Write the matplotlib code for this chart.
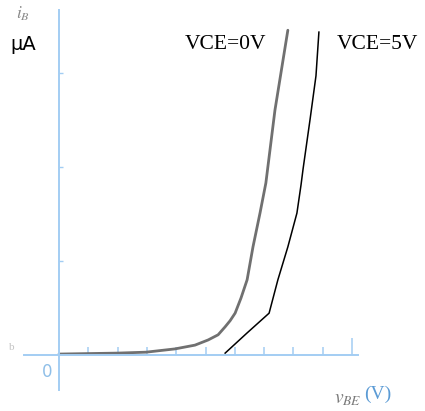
import matplotlib
matplotlib.use("Agg")
import matplotlib.pyplot as plt

# input characteristic of a BJT
# vBE in volts, iB in uA
vbe_0v = [0.000, 0.099, 0.198, 0.297, 0.396, 0.464, 0.509, 0.543, 0.567,
          0.584, 0.601, 0.621, 0.642, 0.662, 0.686, 0.706, 0.737, 0.781]
ib_0v = [0.2, 0.3, 0.4, 0.6, 1.3, 2.1, 3.2, 4.3, 6.0,
         7.3, 8.9, 12.1, 16.0, 23.0, 30.2, 36.6, 52.1, 69.1]

vbe_5v = [0.567, 0.642, 0.717, 0.747, 0.781, 0.812, 0.826, 0.833,
          0.857, 0.877, 0.887]
ib_5v = [0.4, 4.7, 8.9, 16.0, 23.0, 30.2, 36.2, 39.6,
         50.2, 59.4, 68.7]

x_ticks = [0.1, 0.2, 0.3, 0.4, 0.5, 0.6, 0.7, 0.8, 0.9]
x_end_tick = [1.0]
y_ticks = [20, 40, 60]

AXIS_BLUE = "#a3cdf3"

fig = plt.figure(figsize=(4.25, 4.11), dpi=100)
ax = fig.add_axes([0, 0, 1, 1])
ax.set_xlim(-0.2014, 1.2491)
ax.set_ylim(-11.915, 75.532)

ax.plot(vbe_0v, ib_0v, color="#707070", lw=2.0, solid_capstyle="round",
        solid_joinstyle="round")
ax.plot(vbe_5v, ib_5v, color="black", lw=1.1)

# axes drawn as spines through the origin
for side in ("top", "right"):
    ax.spines[side].set_visible(False)
ax.spines["left"].set_position(("data", 0))
ax.spines["bottom"].set_position(("data", 0))
ax.spines["left"].set_bounds(-7.4, 73.4)
ax.spines["bottom"].set_bounds(-0.12, 1.02)
for side in ("left", "bottom"):
    ax.spines[side].set_color(AXIS_BLUE)
    ax.spines[side].set_linewidth(1.4)

ax.set_xticks(x_ticks)
ax.set_xticks(x_end_tick, minor=True)
ax.set_yticks(y_ticks)
ax.tick_params(axis="x", which="major", direction="in", length=6,
               width=1.1, color=AXIS_BLUE, labelbottom=False)
ax.tick_params(axis="x", which="minor", direction="in", length=12,
               width=1.1, color=AXIS_BLUE, labelbottom=False)
ax.tick_params(axis="y", direction="in", length=3, width=1.0,
               color=AXIS_BLUE, labelleft=False)
ax.set_facecolor("white")

serif = ["Liberation Serif", "DejaVu Serif"]
ax.text(0.430, 66.0, "VCE=0V", family=serif, fontsize=15.5, va="center")
ax.text(0.949, 66.0, "VCE=5V", family=serif, fontsize=15.5, va="center")

ax.text(-0.166, 66.0, "\u03bcA", fontsize=14, va="center")
ax.text(-0.148, 72.5, r"$i_B$", fontsize=12.5, color="#8a8a8a", va="center",
        math_fontfamily="stix")
ax.text(-0.041, -3.7, "0", fontsize=12, color="#8fbfe8",
        ha="center", va="center")
ax.text(-0.160, 1.5, "b", fontsize=8, color="#c4c4c4",
        ha="center", va="center", family=serif)
ax.text(0.940, -9.2, r"$v_{BE}$", fontsize=14, color="#7a7a7a",
        va="center", math_fontfamily="stix")
ax.text(1.043, -8.4, "(V)", fontsize=14, color="#5b9bd5",
        va="center", family=serif)

fig.savefig("out.png", dpi=100, facecolor="white")
